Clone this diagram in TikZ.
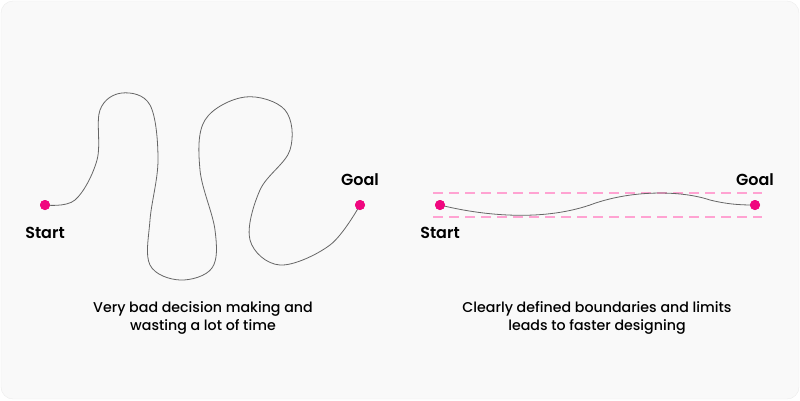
\documentclass[tikz,border=0pt]{standalone}
\usepackage{fontspec}
\setmainfont{Poppins}
\newfontfamily\popmed{Poppins Medium}
\newfontfamily\popsemi{Poppins SemiBold}
\definecolor{dotc}{HTML}{F0077F}
\definecolor{dashc}{HTML}{FFA3D2}
\definecolor{bg}{HTML}{F9F9F9}
\begin{document}
\begin{tikzpicture}[x=1pt,y=-1pt,
  dot/.style={circle,fill=dotc,inner sep=0pt,minimum size=10pt},
  lbl/.style={font=\fontsize{16}{18}\popsemi,text=black},
  captxt/.style={font=\fontsize{14.2}{18}\popmed,align=center,text=black},
  curve/.style={draw=black!60,line width=0.8pt},
  bound/.style={draw=dashc,line width=2.2pt,dash pattern=on 10pt off 6pt}]
\useasboundingbox (0,0) rectangle (800,400);
\fill[bg,draw=black!8,rounded corners=12pt] (1,1) rectangle (799,399);
% left
\node[dot] (s1) at (45,205) {};
\node[dot] (g1) at (360,205) {};
\draw[curve] plot[smooth,tension=0.6] coordinates {(45,205) (75,200) (97,160) (100,110) (122,93) (150,105) (158,160) (150,220) (150,265) (180,280) (212,268) (215,230) (200,170) (205,120) (245,97) (285,110) (290,150) (260,190) (250,240) (280,265) (330,245) (360,205)};
\node[lbl] (ls1) at (45,233) {Start};
\node[lbl] (lg1) at (360,180) {Goal};
\node[captxt] (c1) at (203,318) {Very bad decision making and\\wasting a lot of time};
% right
\draw[bound] (433,193) -- (762,193);
\draw[bound] (433,217) -- (762,217);
\node[dot] (s2) at (440,205) {};
\node[dot] (g2) at (755,205) {};
\draw[curve] (s2.center) .. controls (480,215) and (540,222) .. (590,205) .. controls (630,190) and (680,190) .. (710,200) .. controls (730,205) and (745,205) .. (g2.center);
\node[lbl] (ls2) at (440,233) {Start};
\node[lbl] (lg2) at (755,180) {Goal};
\node[captxt] (c2) at (597,318) {Clearly defined boundaries and limits\\leads to faster designing};
\fill[dotc] (s1) circle (5); \fill[dotc] (g1) circle (5);
\fill[dotc] (s2) circle (5); \fill[dotc] (g2) circle (5);
\end{tikzpicture}
\end{document}
